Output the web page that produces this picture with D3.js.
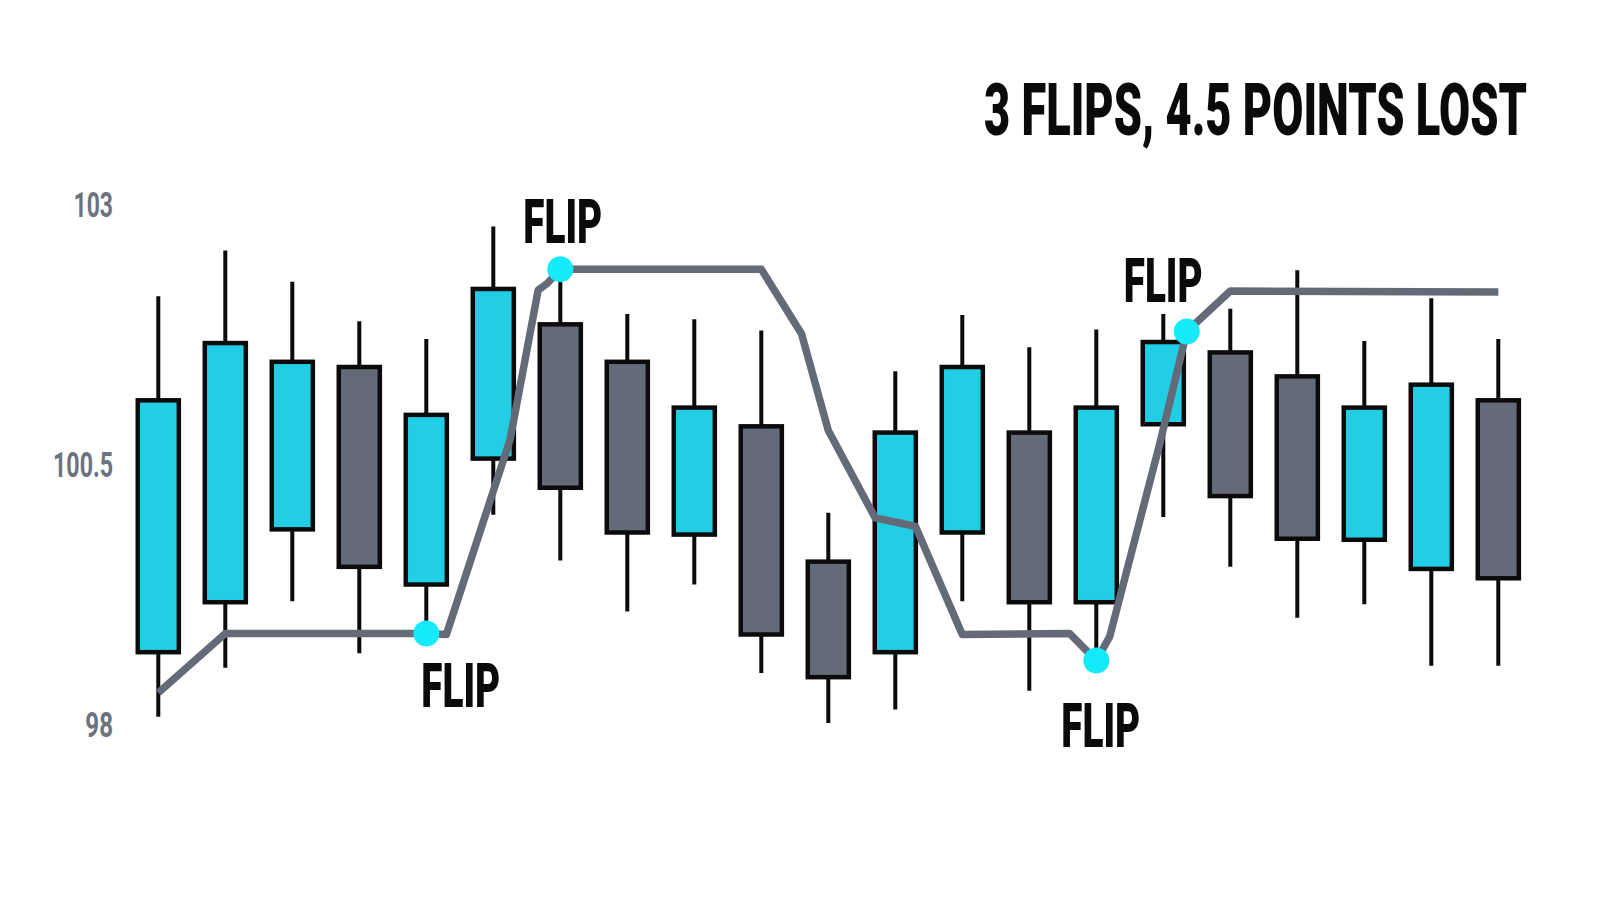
<!DOCTYPE html>
<html>
<head>
<meta charset="utf-8">
<script src="https://cdn.jsdelivr.net/npm/d3@7/dist/d3.min.js"></script>
<style>
  html, body { margin: 0; padding: 0; background: #ffffff; }
  svg { display: block; }
</style>
</head>
<body>
<svg id="chart" width="1600" height="914"></svg>
<script>
// ---------------- DATA ----------------
const candleIndex = [0,1,2,3,4,5,6,7,8,9,10,11,12,13,14,15,16,17,18,19,20];
const openVals  = [98.69, 99.17, 99.87, 101.43, 99.34, 100.55, 101.84, 101.48, 99.82, 100.86, 99.56, 98.69, 99.84, 100.80, 99.17, 100.88, 101.57, 101.34, 99.77, 99.49, 101.11];
const closeVals = [101.11, 101.66, 101.48, 99.51, 100.97, 102.18, 100.27, 99.84, 101.04, 98.86, 98.45, 100.80, 101.43, 99.17, 101.04, 101.67, 100.19, 99.78, 101.04, 101.26, 99.40];
const highVals  = [102.11, 102.55, 102.25, 101.87, 101.70, 102.78, 102.34, 101.94, 101.89, 101.78, 100.03, 101.39, 101.93, 101.62, 101.79, 101.94, 101.99, 102.36, 101.68, 102.09, 101.70];
const lowVals   = [98.07, 98.54, 99.18, 98.68, 98.87, 100.01, 99.57, 99.08, 99.34, 98.49, 98.01, 98.14, 99.18, 98.32, 98.63, 99.99, 99.51, 99.02, 99.15, 98.56, 98.56];

// trailing stop line (x in candle index units, y in price)
const stopIdx = [0, 1, 4, 4.3, 5.25, 5.67, 5.8, 6, 9, 9.6, 10, 10.7, 11.3, 12, 13.6, 14, 14.2, 14.95, 15.35, 16, 20];
const stopVal = [98.30, 98.87, 98.87, 98.86, 100.73, 102.17, 102.23, 102.37, 102.37, 101.75, 100.82, 99.98, 99.90, 98.86, 98.87, 98.61, 98.84, 100.70, 101.77, 102.16, 102.15];

// flip points
const flipIdx = [4, 6, 14, 15.35];
const flipVal = [98.87, 102.37, 98.61, 101.77];
const flipText = ["FLIP", "FLIP", "FLIP", "FLIP"];

// axis
const yTickValues = [98, 100.5, 103];
const yTickLabels = ["98", "100.5", "103"];
const titleText = "3 FLIPS, 4.5 POINTS LOST";

// ---------------- LAYOUT / STYLE ----------------
const W = 1600, H = 914;
const CYAN = "#22cde6", GRAY = "#646a77", OUTLINE = "#0b0b0b";
const LINE_COLOR = "#646a77", DOT_COLOR = "#14eaf8", AXIS_TEXT = "#6b7280";
const FONT = "Roboto, 'Open Sans', 'DejaVu Sans', sans-serif";
// label offsets from each flip dot (layout only)
const flipLabelOffset = [[-5, 74], [-37, -26], [-35, 86], [-63, -30]];

const svg = d3.select("#chart");
svg.append("rect").attr("width", W).attr("height", H).attr("fill", "#ffffff");

const x = d3.scaleLinear().domain([0, 20]).range([158.3, 1498.3]);
const y = d3.scaleLinear().domain([98, 103]).range([724, 203.6]);

const step = x(1) - x(0);
const bodyW = step * 0.613; // inner width, stroke adds the rest

// condensed text helper: horizontally scale glyphs about the anchor point to a target width
function condenseAt(textNode, px, py, width) {
  const sel = d3.select(textNode);
  sel.attr("x", 0).attr("y", 0);
  const natural = textNode.getComputedTextLength();
  const sx = natural > 0 ? width / natural : 1;
  sel.attr("transform", `translate(${px},${py}) scale(${sx},1)`);
}

// ---------------- Y AXIS ----------------
const yAxis = d3.axisLeft(y)
  .tickValues(yTickValues)
  .tickFormat((d, i) => yTickLabels[i])
  .tickSize(0)
  .tickPadding(0);
const gAxis = svg.append("g").attr("transform", "translate(113,0)").call(yAxis);
gAxis.select(".domain").remove();
const labelWidths = [27.7, 60, 39.5];
gAxis.selectAll("text")
  .attr("fill", AXIS_TEXT)
  .attr("font-family", FONT)
  .attr("font-weight", 700)
  .attr("font-size", 35)
  .attr("dy", "0.36em")
  .each(function(d, i) { condenseAt(this, 0, 0, labelWidths[i]); });

// ---------------- CANDLES ----------------
const candles = candleIndex.map((d, i) => ({
  i: d, o: openVals[i], c: closeVals[i], h: highVals[i], l: lowVals[i]
}));

const gC = svg.append("g");
gC.selectAll("line.wick").data(candles).join("line")
  .attr("class", "wick")
  .attr("x1", d => x(d.i)).attr("x2", d => x(d.i))
  .attr("y1", d => y(d.h)).attr("y2", d => y(d.l))
  .attr("stroke", OUTLINE).attr("stroke-width", 4);

gC.selectAll("rect.body").data(candles).join("rect")
  .attr("class", "body")
  .attr("x", d => x(d.i) - bodyW / 2)
  .attr("width", bodyW)
  .attr("y", d => y(Math.max(d.o, d.c)))
  .attr("height", d => Math.abs(y(d.o) - y(d.c)))
  .attr("fill", d => d.c >= d.o ? CYAN : GRAY)
  .attr("stroke", OUTLINE).attr("stroke-width", 4.5);

// ---------------- STOP LINE ----------------
const stopPts = stopIdx.map((d, i) => [d, stopVal[i]]);
svg.append("path")
  .datum(stopPts)
  .attr("d", d3.line().x(d => x(d[0])).y(d => y(d[1])))
  .attr("fill", "none")
  .attr("stroke", LINE_COLOR)
  .attr("stroke-width", 7.5)
  .attr("stroke-linejoin", "round");

// ---------------- FLIPS ----------------
const flips = flipIdx.map((d, i) => ({ i: d, v: flipVal[i], t: flipText[i], off: flipLabelOffset[i] }));
svg.selectAll("circle.flip").data(flips).join("circle")
  .attr("class", "flip")
  .attr("cx", d => x(d.i)).attr("cy", d => y(d.v))
  .attr("r", 13)
  .attr("fill", DOT_COLOR);

svg.selectAll("text.fliplabel").data(flips).join("text")
  .attr("class", "fliplabel")
  .attr("font-family", FONT)
  .attr("font-weight", 900)
  .attr("font-size", 61)
  .attr("fill", "#0a0a0a")
  .text(d => d.t)
  .each(function(d) { condenseAt(this, x(d.i) + d.off[0], y(d.v) + d.off[1], 79); });

// ---------------- TITLE ----------------
svg.append("text")
  .attr("font-family", FONT)
  .attr("font-weight", 900)
  .attr("font-size", 73)
  .attr("fill", "#0a0a0a")
  .text(titleText)
  .each(function() { condenseAt(this, 984, 135, 543); });
</script>
</body>
</html>
